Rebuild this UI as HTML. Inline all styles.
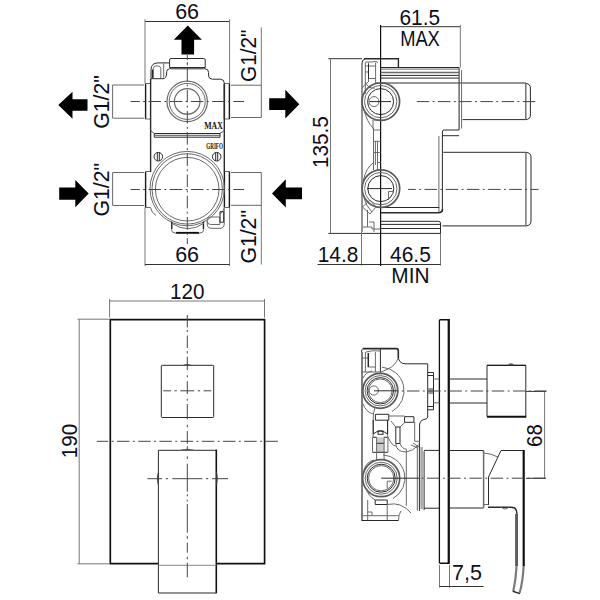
<!DOCTYPE html>
<html><head><meta charset="utf-8"><style>
html,body{margin:0;padding:0;background:#fff;width:600px;height:600px;overflow:hidden}
svg{display:block}
text{font-family:"Liberation Sans",sans-serif;font-size:21.5px;fill:#0d0d1c}
.d{stroke:#333;stroke-width:1;fill:none}
.e{stroke:#777;stroke-width:1;fill:none}
.o{stroke:#2a2a2a;stroke-width:1;fill:none}
.g{stroke:#6a6a6a;stroke-width:1;fill:none}
.t{stroke:#111;stroke-width:2;fill:none}
.c{stroke:#454545;stroke-width:1;fill:none;stroke-dasharray:12.5 3.4 1.9 3.4}
.a{fill:#000}
</style></head><body>
<svg width="600" height="600" viewBox="0 0 600 600">
<!-- ===== TOP-LEFT FRONT VIEW ===== -->
<g id="tl">
<!-- dimension 66 top -->
<path class="d" d="M145,21.5H229.6"/>
<path class="e" d="M145,19.3V83.5M229.6,19.3V83.5"/>
<text x="187.1" y="19" text-anchor="middle">66</text>
<!-- dimension 66 bottom -->
<path class="e" d="M145,207.5V266M229.6,207.5V266"/>
<path class="d" d="M145,264.5H229.6"/>
<text x="187.1" y="262.3" text-anchor="middle">66</text>
<!-- G1/2 right dims -->
<path class="e" d="M261.3,27.5V85.3M261.3,205V264.5"/>
<!-- arrows -->
<polygon class="a" points="187.8,25.4 201.9,39.7 194.1,39.7 194.1,54.6 181.5,54.6 181.5,39.7 173.8,39.7"/>
<polygon class="a" points="58.3,105 72.5,91.7 72.5,99.2 87.5,99.2 87.5,110.8 72.5,110.8 72.5,118.8"/>
<polygon class="a" points="88.7,193.5 75.3,180 75.3,187.5 59.2,187.5 59.2,199.7 75.3,199.7 75.3,207.3"/>
<polygon class="a" points="299.3,104.2 285.3,89.8 285.3,98.3 269.2,98.3 269.2,110 285.3,110 285.3,118.4"/>
<polygon class="a" points="272,193.4 285.8,179.3 285.8,187.5 302,187.5 302,199.2 285.8,199.2 285.8,207.5"/>
<!-- G1/2 texts -->
<text transform="translate(108.6,102) rotate(-90)" text-anchor="middle" style="font-size:22px" textLength="53.5" lengthAdjust="spacingAndGlyphs">G1/2"</text>
<text transform="translate(108.8,189.7) rotate(-90)" text-anchor="middle" style="font-size:22px" textLength="53.5" lengthAdjust="spacingAndGlyphs">G1/2"</text>
<text transform="translate(256,55.8) rotate(-90)" text-anchor="middle" style="font-size:22px" textLength="52.5" lengthAdjust="spacingAndGlyphs">G1/2"</text>
<text transform="translate(256,236.8) rotate(-90)" text-anchor="middle" style="font-size:22px" textLength="53.5" lengthAdjust="spacingAndGlyphs">G1/2"</text>
<!-- pipes -->
<path class="g" d="M144,85H112.6V118.2H144M144,172.5H112.6V205.5H144"/>
<path class="g" d="M231,85.2H261.3V117.5H231M231,172.5H261.3V205.3H231"/>
<!-- flanges -->
<path class="o" style="stroke-width:1.4;stroke:#1a1a1a" d="M145.6,83.5V119M145.6,171.5V207.5M224.4,83.5V119M224.4,171.5V207.5"/>
<path class="g" d="M145.5,83.5H150.5M145.5,119H150.5M145.5,171.5H150.5M145.5,207.5H150.5M224.5,83.5H229.5M224.5,119H229.5M224.5,171.5H229.5M224.5,207.5H229.5"/>
<path class="o" style="stroke-width:1.4;stroke:#1a1a1a" d="M229.4,83.5V119M229.4,171.5V207.5"/>
<!-- top fitting -->
<rect class="o" x="169.6" y="58.5" width="35.6" height="10.3" rx="1.5"/>
<path class="o" d="M170,67.5H205"/>
<path class="g" d="M187.3,62V64"/>
<!-- body outline left/top -->
<path class="o" d="M169.6,62.9H158Q151.3,62.9 151,69.5V79"/>
<path class="o" style="stroke-width:1.4" d="M150.6,79V131"/>
<path class="o" d="M169.6,68.8Q166.7,69 166.7,71.5V73Q166.5,78.6 163,78.7H151"/>
<path class="g" d="M153.3,78V68.5Q153.3,65.8 157,65.8Q160.8,65.8 160.8,68.5V78M163.7,63.3V77.5"/>
<path class="o" style="stroke-width:1.4" d="M152.5,69.5V78"/>
<path class="o" d="M205,68.8Q208.5,69 208.6,72.5V76Q209,79.2 212.5,79.2H220.5Q224.4,79.4 224.4,83.5"/>
<path class="o" style="stroke-width:1.4" d="M224.3,83.5V131"/>
<!-- upper divider -->
<path class="g" d="M150.6,129.5Q151,132 154.3,133.3M224.3,129.5Q223.8,132 220,133.3"/>
<path class="o" d="M154.3,133.5H220M154.3,137.2H220M154.3,133.5V137.2M220,133.5V137.2"/>
<path class="o" style="stroke:#555" d="M154.3,135.3H220"/>
<path class="o" style="stroke-width:1.4" d="M150.6,131V172M224.3,131V172"/>
<!-- upper circles -->
<circle class="g" style="stroke-width:1.2" cx="187.2" cy="101.4" r="20.2"/>
<circle class="g" cx="187.2" cy="101.4" r="18"/>
<circle class="g" style="stroke-width:1.2" cx="187.2" cy="101.4" r="12.8"/>
<!-- lower circles -->
<circle class="g" cx="187.2" cy="188.6" r="37.2"/>
<circle class="g" cx="187.2" cy="188.9" r="35.2"/>
<circle class="g" cx="187.2" cy="189.2" r="31.8"/>
<!-- lower body corners -->
<path class="g" d="M150.6,207.5Q151.5,213 156,215.5M224.3,207.5Q223.5,212 220,214"/>
<!-- screws -->
<circle class="o" cx="158.3" cy="156.7" r="4.3"/>
<path class="o" d="M157.3,152.6V160.8M159.3,152.6V160.8"/>
<circle class="o" cx="216.7" cy="156.7" r="4.3"/>
<path class="o" d="M215.7,152.6V160.8M217.7,152.6V160.8"/>
<!-- bottom fitting -->
<path class="g" d="M171.5,221V229.5Q171.7,233 175,233H200Q203.6,233 203.6,229.5V221"/>
<path class="o" style="stroke-width:1.4" d="M171.8,222V229M203.4,222V229"/>
<path class="g" d="M172,223.5Q188,233.9 203.5,223.5"/>
<path class="t" style="stroke-width:1.8" d="M176.1,232.8H198.9"/>
<!-- bottom right protrusion -->
<path class="g" d="M207.2,221V225Q207.5,228.3 211,228.3H220Q224.2,228.3 224.2,224V207.5"/>
<path class="g" d="M210.5,217H219.8V224.5H210.5Q207.2,224.5 207.2,220.7Q207.2,217 210.5,217Z"/>
<path class="o" d="M220,211.7H223.7V222.2H220Z"/>
<!-- small labels -->
<text x="213.5" y="129" text-anchor="middle" style="font-size:9.5px;font-weight:bold;font-family:'Liberation Serif',serif;fill:#111" textLength="18.6" lengthAdjust="spacingAndGlyphs">MAX</text>
<text x="214.6" y="148.8" text-anchor="middle" style="font-size:9px;font-weight:bold;font-family:'Liberation Serif',serif;fill:#111" textLength="16.6" lengthAdjust="spacingAndGlyphs">GRIFO</text>
<!-- centerlines -->
<path class="c" style="stroke-dashoffset:3.2" d="M130.5,101.5H244M130.5,189.5H244"/>
<path class="c" style="stroke-dashoffset:7.6" d="M187.3,55V244"/>
</g>

<!-- ===== TOP-RIGHT SIDE VIEW ===== -->
<g id="tr">
<!-- 61.5 MAX dim -->
<path class="d" d="M380.5,26.7H460.3"/>
<path class="e" d="M460.3,25V67.5"/>
<text x="419.8" y="25.2" text-anchor="middle" textLength="40.6" lengthAdjust="spacingAndGlyphs">61.5</text>
<text x="420" y="46.3" text-anchor="middle" textLength="39.7" lengthAdjust="spacingAndGlyphs">MAX</text>
<!-- 135.5 dim -->
<path class="d" d="M328.3,58.7H362M328.3,233.4H381"/>
<path class="e" d="M330.5,58.7V233.4"/>
<text transform="translate(327.9,142.2) rotate(-90)" text-anchor="middle" textLength="51.8" lengthAdjust="spacingAndGlyphs">135.5</text>
<!-- bottom dims -->
<path class="e" d="M361.5,232V265.5M440.5,233V265.5"/>
<path class="d" d="M317.5,264.5H440.5"/>
<text x="338" y="262" text-anchor="middle" textLength="40.5" lengthAdjust="spacingAndGlyphs">14.8</text>
<text x="410.4" y="262.4" text-anchor="middle" textLength="40.8" lengthAdjust="spacingAndGlyphs">46.5</text>
<text x="410.4" y="283.3" text-anchor="middle" textLength="38.2" lengthAdjust="spacingAndGlyphs">MIN</text>
<!-- wall line -->
<path class="o" style="stroke-width:1.2;stroke:#111" d="M380.6,25V266"/>
<!-- body top -->
<path class="o" style="stroke-width:1.4" d="M364,58.7H398.4V67.5"/>
<path class="o" d="M362,232V63Q362.2,59.5 365,58.9"/>
<!-- body top-left detail -->
<path class="g" d="M365.3,62H372Q376,60.5 378,62.5M365.3,62.5V94M368.5,62.5V82M375.6,62.5V83M365.3,66H375.6M365.3,72H368.5M368.5,78.5H375.6"/>
<path class="o" d="M368.5,64V78.5"/>
<path class="g" d="M365.3,82Q368,89 375,88M362.2,88Q365,84 368,82"/>
<!-- cartridge lines -->
<path class="o" d="M380.6,67.5H459M380.6,75.4H459M380.6,78.1H459M380.6,83H526"/>
<path class="g" d="M380.6,69.1H459"/>
<path class="g" style="stroke-width:1.5" d="M380.6,72.6H459"/>
<!-- housing -->
<path class="o" style="stroke-width:1.3;stroke:#555" d="M459.1,67.5V130"/>
<path class="g" d="M461.6,70V128.4"/>
<path class="o" d="M459.1,130H444Q442.4,130 442.4,132V212M459.1,135.7H442.4"/>
<path class="g" d="M438.9,136V212"/>
<!-- upper cylinder -->
<path class="o" d="M462.6,119.6H525.8M525.8,83.4Q530.4,83.8 530.4,88V115Q530.4,119.3 525.8,119.6"/>
<path class="g" style="stroke-width:1.4" d="M525.8,83.4V119.6"/>
<!-- lower cylinder -->
<path class="o" d="M443.3,152.3H525.9M442.4,225.9H525.9M525.9,152.3Q531,152.8 531,157V221Q531,225.6 525.9,225.9"/>
<path class="g" style="stroke-width:1.4" d="M525.9,152.3V225.9"/>
<!-- bottom bars -->
<path class="o" d="M380.6,207.5H439.3M380.6,221.3H438.5Q440.5,221.5 440.5,223V233M380.6,224.4H440.5M380.6,228.5H440.5M380.6,233.4H440.5"/>
<path class="o" style="stroke-width:1.6" d="M380.6,212.7H438Q442.4,212.7 442.4,209"/>
<!-- circles upper -->
<circle class="g" style="stroke-width:1.7;stroke:#5a5a5a" cx="380.8" cy="101.6" r="18.8"/>
<circle class="g" cx="380.7" cy="101.6" r="16.2"/>
<circle class="o" cx="380.6" cy="101.6" r="13"/>
<circle class="g" cx="374" cy="101.6" r="5"/>
<path class="o" d="M369.5,101.6H391"/>
<!-- circles lower -->
<circle class="g" style="stroke-width:1.7;stroke:#5a5a5a" cx="380.9" cy="188.6" r="18.8"/>
<circle class="g" cx="380.8" cy="188.6" r="16.2"/>
<circle class="o" cx="380.8" cy="188.6" r="13"/>
<path class="g" d="M388.5,200V191.5H393"/>
<path class="o" d="M367,188.6H392"/>
<!-- between-circles detail -->
<path class="g" d="M373,120V129M373.5,128V170M375.4,141V165M377.5,141V171M373.5,141.3H380.6M373.5,152.5H380.6M377.5,162.5H380.6M373.5,120H380.6M373.5,130H380.6"/>
<path class="g" d="M364,110Q367,122 373,128M373,163Q366,168 363.5,180"/>
<path class="g" d="M364,198Q366,206 372,212M367.5,210V227M363,227H372V229H380.6M369,222H374V232"/>
<path class="g" d="M362.5,207L370,200L376,207L370,214Z"/>
<!-- centerlines -->
<path class="c" style="stroke-dashoffset:18.4" d="M414,101.6H538"/>
<path class="c" style="stroke-dashoffset:4.7" d="M408,189.4H538.5"/>
</g>

<!-- ===== BOTTOM-LEFT FRONT PLATE ===== -->
<g id="bl">
<path class="e" d="M109.6,301H264.5M109.6,299V317.7M264.5,299V317.7"/>
<text x="187.3" y="298.5" text-anchor="middle" textLength="34.4" lengthAdjust="spacingAndGlyphs">120</text>
<path class="e" d="M79.2,319.2V563.8M77.5,319.2H109M77.5,563.8H109"/>
<text transform="translate(76.5,441) rotate(-90)" text-anchor="middle" textLength="34.4" lengthAdjust="spacingAndGlyphs">190</text>
<path class="t" style="stroke-width:1.7" d="M158.4,563.7H110.3V319.6H264.6V563.7H216.3"/>
<rect class="o" x="161.3" y="365.3" width="52.4" height="52.2" rx="0.8"/>
<path fill="#444" d="M182,365.6Q187.3,362.2 192.6,365.6Z"/>
<!-- lever -->
<path class="o" d="M158.4,563.7V450.3H216.2"/>
<path class="t" style="stroke-width:1.6" d="M216.3,449.6V593.3"/>
<path class="o" d="M158.4,563.7V593H216.3"/>
<path class="g" style="stroke:#888" d="M158.4,565.3H216.3"/>
<path fill="#666" d="M178,450.6Q187.3,446.8 196.5,450.6Z"/>
<path fill="#444" d="M158.4,470.5Q155.6,478.5 158.4,486.5Z"/>
<path fill="#444" d="M216.3,470.5Q219.2,478.5 216.3,486.5Z"/>
<!-- centerlines -->
<path class="c" style="stroke-dasharray:none" d="M187.3,315V327.5M187.3,330V332M187.3,335.5V348M187.3,351V353.5M187.3,356.7V370M187.3,375.3V377.3M187.3,381.3V394M187.3,398.7V400.7M187.3,404V419.3M187.3,424.7V427.3M187.3,431V443.7M187.3,446.3V449.7M187.3,456.3V459M187.3,463.7V491.7M187.3,494.3V496.3M187.3,499.7V501.5M187.3,504V532.7M187.3,536V538.7M187.3,542.7V552.7M187.3,556.7V559.3M187.3,562.7V577.3"/>
<path class="c" style="stroke-dashoffset:0.9" d="M96.7,441.3H278.5"/>
<path class="c" style="stroke-dasharray:14 3.5 2.3 3.5;stroke-dashoffset:6.2" d="M163.2,390.8H211.2"/>
<path class="c" style="stroke-dasharray:none" d="M147.4,478.7H162M165.7,478.7H168M172.3,478.7H202.4M206,478.7H208.2M212,478.7H228"/>
</g>

<!-- ===== BOTTOM-RIGHT SIDE VIEW ===== -->
<g id="br">
<!-- plate -->
<path class="o" style="stroke:#111;stroke-width:1.3" d="M439.4,320V563"/>
<path class="o" style="stroke-width:1.6;stroke:#111" d="M439.4,319.8H448.6V563.3H439.4"/>
<path class="o" style="stroke-width:2;stroke:#111" d="M448.8,319V564"/>
<!-- 7,5 dim -->
<path class="e" d="M439.5,565V587.5M449.5,565V587.5"/>
<path class="d" d="M439.5,586.5H483.5"/>
<text x="467" y="580" text-anchor="middle">7,5</text>
<!-- knob -->
<path class="o" d="M449.2,379H487M449.2,403H487"/>
<path class="o" d="M487,416.6V365.3H525.8V416.6"/>
<path class="o" style="stroke:#111" d="M487,365.3H525.8"/>
<path class="t" d="M487,416.8H526.3"/>
<path fill="#555" d="M507.5,365.3Q511,361.3 514.5,365.3Z"/>
<!-- 68 dim -->
<path class="e" d="M544.6,391.4V478.3"/>
<path class="d" d="M526,391.4H546M526,478.3H546"/>
<text transform="translate(541.8,435.6) rotate(-90)" text-anchor="middle" textLength="22.7" lengthAdjust="spacingAndGlyphs">68</text>
<!-- lever -->
<path class="o" d="M449.2,450.5H483.6M449.2,508H483.6"/>
<path class="g" style="stroke-width:1.5" d="M483.6,450.5V508"/>
<path class="g" d="M483.6,504.5H488.5M484,453Q491,453.5 498,457"/>
<path class="o" d="M501,450.5L488.5,477V505"/>
<path class="o" d="M501,450.5H523.6"/>
<path class="t" style="stroke-width:2.2" d="M523.7,450V566"/>
<path class="o" style="stroke-width:1.5" d="M488,507.3H511Q517,507.3 517,514V566"/>
<path class="g" d="M515.5,514V566M501,507Q505,511 509,507"/>
<path style="stroke:#7a7a7a;stroke-width:2.2;fill:none" d="M516.6,566Q515.8,580 513.3,591.5M523.6,566Q523,581 519.6,593"/>
<path class="o" style="stroke-width:1.5" d="M512.8,591.3L519.8,593.6"/>
<!-- body outline -->
<path class="o" style="stroke-width:1.6" d="M363,348.6H396.5Q398.3,348.6 398.3,351V358"/>
<path class="o" d="M398.3,357Q399,363.5 405,363.8H427.7V417Q427.5,419 424,419.5Q419.8,420.5 419.6,425V441"/>
<path class="o" d="M361.5,352Q361.5,349 363,348.6"/>
<path class="o" style="stroke-width:1.2" d="M362,352V520.5H398.5"/>
<path class="o" d="M380.4,348.6V372.5"/>
<path class="g" d="M365.4,352V372M375.4,352V372M361.5,358H368M368.3,367H375.4M361.5,372H380.4M366,352Q372,350 380,351"/>
<path class="o" style="stroke-width:1.5" d="M368.3,353V367"/>
<path class="g" d="M398.3,358Q395,366 388,369Q383,371 380.4,372.5"/>
<!-- flange + stem -->
<path class="o" d="M427.7,372.5H433.5V409.8H427.7M427.7,375.5H433.5M427.7,406.5H433.5"/>
<path class="g" d="M433.5,379H439.3M433.5,402.8H439.3"/>
<rect x="428" y="388" width="5" height="6" fill="#999"/>
<!-- upper circle -->
<circle class="g" style="stroke-width:1.7;stroke:#5a5a5a" cx="380.3" cy="390.8" r="17.5"/>
<circle class="g" cx="380.3" cy="390.8" r="15.2"/>
<circle class="o" cx="380.3" cy="390.8" r="13.2"/>
<circle class="g" cx="380.3" cy="390.8" r="11.8"/>
<circle class="g" cx="373.8" cy="390.5" r="4.6"/>
<path class="o" d="M374,390.8H397"/>
<path class="g" d="M382,367.2A23.7,23.7 0 0 1 392,411.5"/>
<path class="g" d="M363,378Q366,372 372,371M363,404Q366,412 373,414"/>
<!-- middle details -->
<path class="o" d="M375.4,414.3H388.8V420.2H375.4ZM404.6,416.7H413.9V422.3H404.6Z"/>
<path class="g" d="M373.1,420V437M387.7,420V437M388.8,416H404.6M375,408Q373,412 373.1,420"/>
<path class="o" d="M373.25,420V434M387.5,420V434M373.25,434Q380.4,428 387.5,434"/>
<rect class="o" x="378.1" y="430.9" width="4.9" height="3.4"/>
<rect x="376.6" y="437.3" width="7.5" height="15" fill="#ccc"/>
<path class="o" d="M372.5,437.3H376.6M384.1,437.3H387.9M372.5,452.3H387.9M376.6,443.3H384.1"/>
<path class="g" d="M372.5,437.3V452.3M376.6,437.3V460M384.1,437.3V460M387.9,437.3V452.3"/>
<path class="o" d="M395.8,427H400V443.5H395.8Z"/>
<path class="g" d="M400,427L405,422.3M395.8,427L391,421M395.8,443.5Q396,452 406.3,452Q413,451 418.6,445M400,443.5Q402,449 406.3,449M406.3,449V506"/>
<path class="g" d="M388,437Q392,446 395.8,446M374,460Q366,462 364,470"/>
<!-- lower circle -->
<circle class="g" style="stroke-width:1.7;stroke:#5a5a5a" cx="381.2" cy="478.2" r="18.5"/>
<circle class="g" cx="381.2" cy="478.2" r="16"/>
<circle class="o" cx="381.2" cy="478.2" r="14"/>
<circle class="g" cx="381.2" cy="478.2" r="12.6"/>
<path class="g" d="M387.2,488.7V481.2H391.7"/>
<path class="o" d="M381.2,478.2H404"/>
<path class="g" d="M383,454.9A23.3,23.3 0 0 1 393,498.5"/>
<!-- cartridge -->
<path class="g" style="stroke-width:2.6;stroke:#aaa" d="M421.6,447V509"/>
<path class="o" d="M419.4,441V511M424.1,451V510M424.1,450.4H439.3M424.1,508.2H439.3"/>
<path class="g" d="M417.3,445V510.5M414.7,422V441.3H419.4M411,445L418,448M413,443L419,447"/>
<!-- lower body -->
<path class="o" d="M375.2,500H387.2V504.5H375.2Z"/>
<path class="g" d="M367.7,500V520M387.2,504.5V520M362,515.7H398.5M387.2,504.5Q395,503 400,505Q407,508 411,513M366,488Q368,496 375.2,500M368,512H372V516"/>
<path class="g" d="M398.5,520.5Q398.5,514 401,511"/>
<!-- centerlines -->
<path class="c" style="stroke-dashoffset:12.2" d="M398,391H548"/>
<path class="o" d="M404,478.2H419"/>
<path class="c" style="stroke-dashoffset:13.2" d="M419,478.2H548"/>
</g>
</svg>
</body></html>
